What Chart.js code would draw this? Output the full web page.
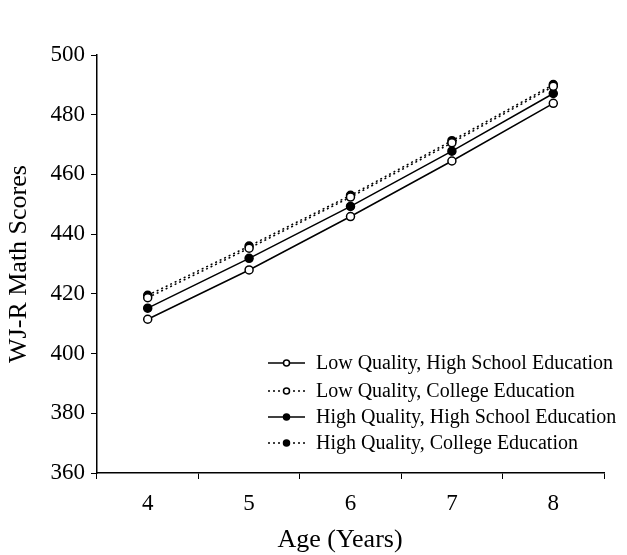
<!DOCTYPE html>
<html>
<head>
<meta charset="utf-8">
<script src="https://cdn.jsdelivr.net/npm/chart.js@4.4.1/dist/chart.umd.min.js"></script>
<style>
  html, body { margin: 0; padding: 0; background: #fff; }
  #wrap { width: 627px; height: 555px; }
</style>
</head>
<body>
<div id="wrap"><canvas id="c" width="627" height="555"></canvas></div>
<script>
// Age categories on the x axis
const ages = ['4', '5', '6', '7', '8'];

// WJ-R math scores by child-care quality and maternal education
const lowQualityHighSchool  = [411.5, 428.0, 445.9, 464.5, 483.8];
const lowQualityCollege     = [418.7, 435.3, 452.4, 470.6, 489.5];
const highQualityHighSchool = [415.2, 431.9, 449.3, 467.8, 487.1];
const highQualityCollege    = [419.5, 436.0, 453.0, 471.3, 490.1];

const seriesNames = [
  'Low Quality, High School Education',
  'Low Quality, College Education',
  'High Quality, High School Education',
  'High Quality, College Education'
];

const yTicks = { min: 360, max: 500, step: 20 };
const xTitle = 'Age (Years)';
const yTitle = 'WJ-R Math Scores';

const SERIF = '"Liberation Serif", "DejaVu Serif", serif';
const DOT = [2, 3];

function series(label, data, filled, dotted) {
  return {
    label, data,
    borderColor: '#000',
    borderWidth: 1.5,
    borderDash: dotted ? DOT : [],
    pointRadius: 4,
    pointHoverRadius: 4,
    pointBorderWidth: 1.5,
    pointBorderColor: '#000',
    pointBackgroundColor: filled ? '#000' : '#fff',
    fill: false,
    tension: 0
  };
}

// Key drawn inside the plot area, lower right, plus the x-axis caption
const annotations = {
  id: 'annotations',
  afterDatasetsDraw(chart) {
    const ctx = chart.ctx;
    const x0 = 268, x1 = 305, xm = 286.5, xt = 316;
    const rows = [363, 391, 417, 443];
    ctx.save();
    ctx.font = '20px ' + SERIF;
    ctx.textBaseline = 'middle';
    ctx.fillStyle = '#000';
    chart.data.datasets.forEach((ds, i) => {
      const y = rows[i];
      ctx.beginPath();
      ctx.setLineDash(ds.borderDash);
      ctx.lineWidth = ds.borderWidth;
      ctx.strokeStyle = '#000';
      ctx.moveTo(x0, y);
      ctx.lineTo(x1, y);
      ctx.stroke();
      ctx.setLineDash([]);
      ctx.beginPath();
      ctx.arc(xm, y, 3, 0, Math.PI * 2);
      ctx.fillStyle = ds.pointBackgroundColor;
      ctx.fill();
      ctx.lineWidth = 1.5;
      ctx.stroke();
      ctx.fillStyle = '#000';
      ctx.fillText(ds.label, xt, y + 1);
    });

    // x-axis caption
    ctx.font = '26px ' + SERIF;
    ctx.textAlign = 'center';
    ctx.textBaseline = 'middle';
    ctx.fillText(xTitle, 340, 540);
    ctx.restore();
  }
};

new Chart(document.getElementById('c'), {
  type: 'line',
  data: {
    labels: ages,
    datasets: [
      series(seriesNames[0], lowQualityHighSchool, false, false),
      series(seriesNames[1], lowQualityCollege, false, true),
      series(seriesNames[2], highQualityHighSchool, true, false),
      series(seriesNames[3], highQualityCollege, true, true)
    ]
  },
  options: {
    responsive: false,
    animation: false,
    events: [],
    layout: { padding: { top: 55, right: 23, left: 0, bottom: 0 } },
    plugins: { legend: { display: false }, tooltip: { enabled: false } },
    scales: {
      x: {
        type: 'category',
        offset: true,
        grid: { offset: true, drawOnChartArea: false, drawTicks: true, tickLength: 6, color: '#000', lineWidth: 1 },
        border: { display: true, color: '#000', width: 1.5 },
        ticks: { color: '#000', font: { family: SERIF, size: 23 }, padding: 11, maxRotation: 0 },
        title: { display: false },
        afterFit(scale) { scale.height = 82; }
      },
      y: {
        min: yTicks.min, max: yTicks.max,
        grid: { drawOnChartArea: false, drawTicks: true, tickLength: 6, color: '#000', lineWidth: 1 },
        border: { display: true, color: '#000', width: 1.5 },
        ticks: { stepSize: yTicks.step, color: '#000', font: { family: SERIF, size: 23 }, padding: 6 },
        title: { display: true, text: yTitle, color: '#000', font: { family: SERIF, size: 26 }, padding: { top: 4, bottom: 6 } },
        afterFit(scale) { scale.width = 97; }
      }
    }
  },
  plugins: [annotations]
});
</script>
</body>
</html>
